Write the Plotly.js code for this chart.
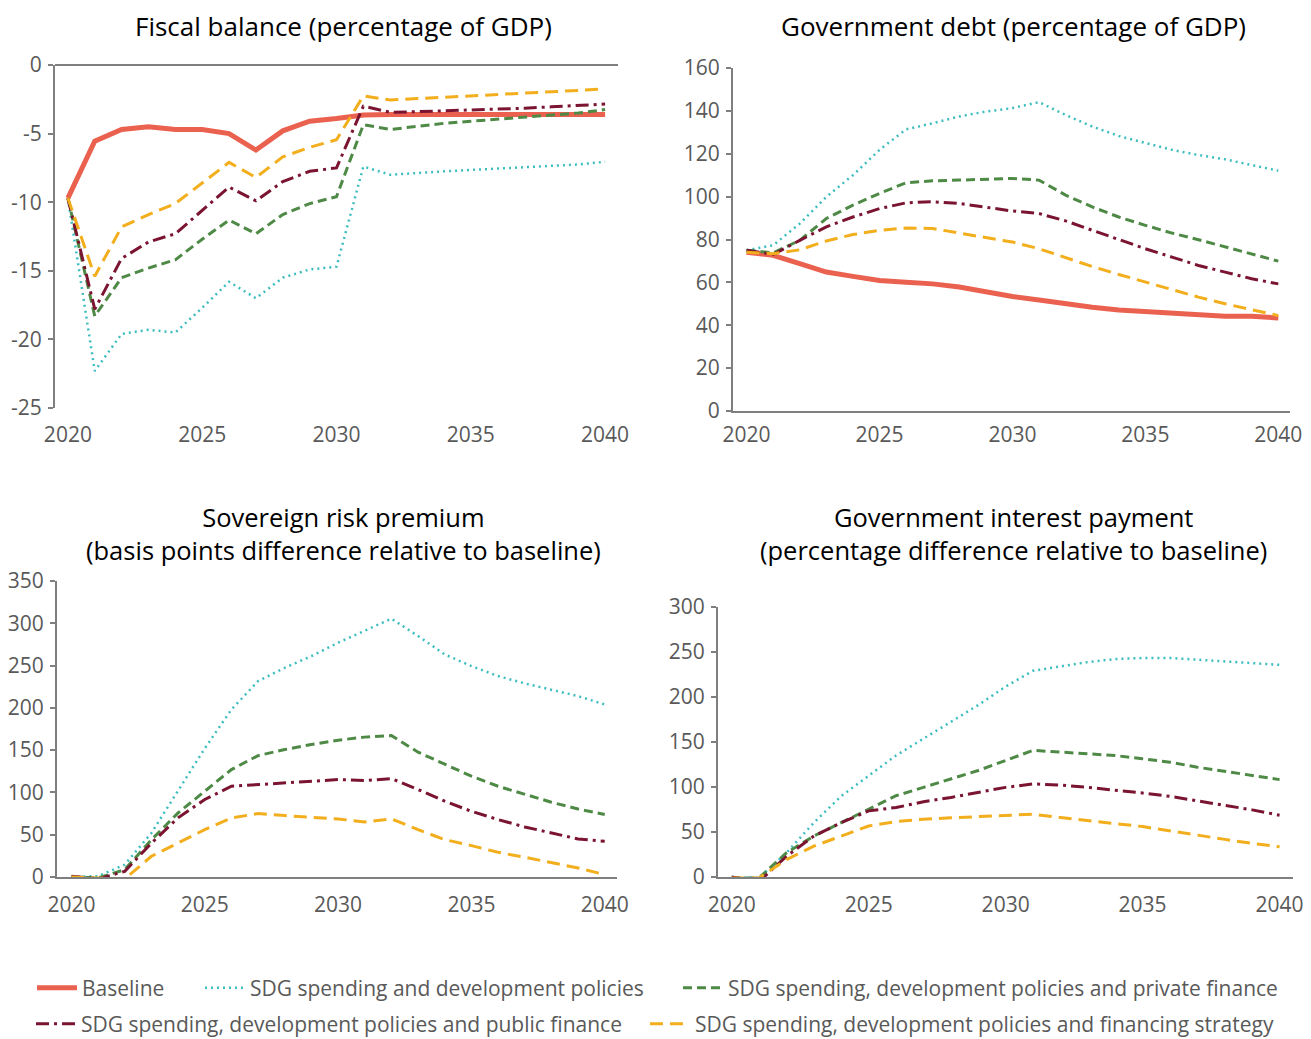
<!DOCTYPE html>
<html>
<head>
<meta charset="utf-8">
<script src="https://cdn.plot.ly/plotly-3.0.1.min.js"></script>
<style>html,body{margin:0;padding:0;background:#fff;}#chart{width:1311px;height:1039px;}</style>
</head>
<body>
<div id="chart"></div>
<script>
// ---- Data ----
const years = [2020,2021,2022,2023,2024,2025,2026,2027,2028,2029,2030,2031,2032,2033,2034,2035,2036,2037,2038,2039,2040];

const seriesNames = [
  "Baseline",
  "SDG spending and development policies",
  "SDG spending, development policies and private finance",
  "SDG spending, development policies and public finance",
  "SDG spending, development policies and financing strategy"
];

// Fiscal balance (percentage of GDP)
const fiscalBaseline = [-9.7,-5.55,-4.7,-4.5,-4.7,-4.7,-5.0,-6.2,-4.8,-4.1,-3.9,-3.65,-3.6,-3.6,-3.6,-3.6,-3.6,-3.6,-3.6,-3.6,-3.6];
const fiscalSdg      = [-9.7,-22.3,-19.6,-19.3,-19.5,-17.7,-15.8,-17.0,-15.5,-14.9,-14.7,-7.4,-8.0,-7.85,-7.75,-7.65,-7.55,-7.45,-7.35,-7.25,-7.05];
const fiscalPrivate  = [-9.7,-18.3,-15.5,-14.8,-14.2,-12.7,-11.3,-12.3,-10.9,-10.1,-9.6,-4.35,-4.7,-4.45,-4.25,-4.1,-3.95,-3.8,-3.65,-3.5,-3.25];
const fiscalPublic   = [-9.7,-17.8,-14.1,-12.9,-12.3,-10.6,-8.9,-9.9,-8.5,-7.75,-7.5,-3.0,-3.45,-3.4,-3.35,-3.3,-3.2,-3.15,-3.05,-2.95,-2.85];
const fiscalStrategy = [-9.7,-15.4,-11.8,-10.9,-10.1,-8.6,-7.1,-8.2,-6.7,-6.0,-5.45,-2.25,-2.55,-2.45,-2.35,-2.25,-2.15,-2.05,-1.95,-1.85,-1.75];
const fiscalTickVals = [0,-5,-10,-15,-20,-25];
const fiscalTickText = ["0","-5","-10","-15","-20","-25"];

// Government debt (percentage of GDP)
const debtBaseline = [74.1,72.6,68.7,64.8,62.8,60.9,60.1,59.3,57.8,55.4,53.4,51.8,50.0,48.4,47.1,46.4,45.6,45.0,44.2,44.2,43.4];
const debtSdg      = [75.0,77.3,87.4,99.9,110.0,121.8,131.4,134.2,137.4,139.7,141.3,144.1,138.1,132.7,128.3,124.9,121.8,119.4,117.4,114.7,112.1];
const debtPrivate  = [75.0,73.8,79.6,89.8,96.0,101.5,106.5,107.4,107.7,108.2,108.5,107.7,100.7,95.2,90.5,86.6,83.0,79.9,76.5,73.4,69.9];
const debtPublic   = [75.0,73.0,79.6,85.9,90.5,94.4,97.1,97.6,96.8,95.2,93.3,92.1,88.7,84.3,79.9,75.7,71.8,67.9,64.8,61.7,59.3];
const debtStrategy = [74.1,73.4,75.2,79.3,82.3,84.3,85.4,85.1,83.0,80.9,78.8,75.7,71.5,67.4,63.7,60.1,56.5,53.1,50.0,47.1,44.5];

// Sovereign risk premium (basis points difference relative to baseline)
const riskSdg      = [0,1,14.6,52,102,152,198,231.6,247.4,261.2,277,290.9,305.4,285,263.2,249.4,237.6,228.9,221.8,213.9,204];
const riskPrivate  = [0,-1,8.7,44,75.8,101.4,127,143.6,150.7,156.7,161.8,165.4,167.3,147.6,133,119.2,107.3,97.5,88.4,80.5,73.8];
const riskPublic   = [1,-2.4,6.7,40,70,91.6,107.3,109.3,112.1,114,115.2,114,116.4,103.4,89.6,77.7,67.9,59.2,52.1,45,42.2];
const riskStrategy = [0,-1,-2.4,24.5,40.3,56,69.9,75,72.6,71,68.7,65.1,68.7,56,44.2,37.1,29.2,23.3,17.4,10.7,2.8];

// Government interest payment (percentage difference relative to baseline)
const interestSdg      = [0,-1,26.9,60.4,90,112,135,153.7,172.4,191,211.6,229.1,234,238.8,242.2,243.3,243.3,241.4,239.6,237.7,235.8];
const interestPrivate  = [-1,-1,26.9,45.5,60.4,75.4,90.3,99.6,109,118.3,129.5,140.7,138.8,136.9,135,131.3,127.6,122,117.2,112.7,108.2];
const interestPublic   = [0,-4.9,23,45.5,60.4,73.5,77.2,83.6,88.4,94,99.6,103.4,102.2,99.6,96.6,93.3,89.6,84.7,79.9,74.6,68.7];
const interestStrategy = [-1,-1,19.4,34.3,45.5,56.7,61.6,64.2,65.7,67.2,68.7,69.8,66,62.3,59.3,56,51.1,46.3,41.8,37.3,33.6];

// Panel titles
const panelTitles = [
  "Fiscal balance (percentage of GDP)",
  "Government debt (percentage of GDP)",
  "Sovereign risk premium<br>(basis points difference relative to baseline)",
  "Government interest payment<br>(percentage difference relative to baseline)"
];

// ---- Styling ----
const W = 1311, H = 1039;
const FONT = "'Open Sans', 'Noto Sans', sans-serif";
const styles = [
  {color:"#EB6150", width:5,   dash:"solid"},
  {color:"#3DBDBE", width:2.5, dash:"2px,4px"},
  {color:"#4E8A46", width:3,   dash:"9px,5px"},
  {color:"#7A1430", width:3,   dash:"13px,5px,3px,5px"},
  {color:"#F2AE1C", width:3,   dash:"13px,7px"}
];
const legendIds = ["legend","legend2","legend3","legend4","legend5"];

const panels = [
  {ax:"", data:[fiscalBaseline,fiscalSdg,fiscalPrivate,fiscalPublic,fiscalStrategy]},
  {ax:"2", data:[debtBaseline,debtSdg,debtPrivate,debtPublic,debtStrategy]},
  {ax:"3", data:[null,riskSdg,riskPrivate,riskPublic,riskStrategy]},
  {ax:"4", data:[null,interestSdg,interestPrivate,interestPublic,interestStrategy]}
];

const traces = [];
panels.forEach((p, pi) => {
  p.data.forEach((vals, si) => {
    if (!vals) return;
    traces.push({
      type:"scatter", mode:"lines",
      x: years, y: vals,
      name: seriesNames[si],
      xaxis: "x"+p.ax, yaxis: "y"+p.ax,
      line: Object.assign({}, styles[si]),
      showlegend: pi === 0,
      legend: legendIds[si],
      hoverinfo: "skip"
    });
  });
});
const px = v => v / W;
const py = v => 1 - v / H;

function xAx(l, r, range, standoff) {
  return {
    domain:[px(l), px(r)], range: range, tick0:2020, dtick:5,
    showgrid:false, zeroline:false, showline:true, linecolor:"#7F7F7F", linewidth:2,
    ticks:"", ticklabelstandoff: standoff,
    tickfont:{family:FONT, size:21, color:"#595959"}, fixedrange:true
  };
}
function yAx(t, b, range, dtick) {
  return {
    domain:[py(b), py(t)], range: range, dtick: dtick,
    showgrid:false, zeroline:false, showline:true, linecolor:"#7F7F7F", linewidth:2,
    ticks:"outside", ticklen:5, tickwidth:2, tickcolor:"#7F7F7F", ticklabelstandoff:2,
    tickfont:{family:FONT, size:21, color:"#595959"}, fixedrange:true
  };
}

const layout = {
  width: W, height: H,
  margin:{l:0,r:0,t:0,b:0,autoexpand:false},
  paper_bgcolor:"#fff", plot_bgcolor:"#fff",
  font:{family:FONT, color:"#595959"},
  xaxis:  Object.assign(xAx(55, 618, [2019.52, 2040.48], 12), {anchor:"y", showline:false}),
  yaxis:  Object.assign(yAx(65, 408, [-25, 0], 5), {anchor:"x", tickmode:"array", tickvals:fiscalTickVals, ticktext:fiscalTickText,
           zeroline:true, zerolinecolor:"#7F7F7F", zerolinewidth:2}),
  xaxis2: Object.assign(xAx(733, 1290, [2019.49, 2040.44], 4), {anchor:"y2"}),
  yaxis2: Object.assign(yAx(68, 411, [0, 160], 20), {anchor:"x2"}),
  xaxis3: Object.assign(xAx(57, 617, [2019.46, 2040.46], 8), {anchor:"y3"}),
  yaxis3: Object.assign(yAx(581, 877, [0, 350], 50), {anchor:"x3"}),
  xaxis4: Object.assign(xAx(718, 1293, [2019.5, 2040.49], 8), {anchor:"y4"}),
  yaxis4: Object.assign(yAx(607, 877, [0, 300], 50), {anchor:"x4"}),
  annotations: []
};

const titlePos = [[343,26,26],[1014,26,26],[343,533,25.5],[1014,533,25.5]];
panelTitles.forEach((txt, i) => {
  layout.annotations.push({
    text: txt, xref:"paper", yref:"paper",
    x: px(titlePos[i][0]), y: py(titlePos[i][1]),
    xanchor:"center", yanchor:"middle", align:"center", showarrow:false,
    font:{family:FONT, size:titlePos[i][2], color:"#000"}
  });
});

const legendPos = [[37,988],[205,988],[683,988],[36,1024],[650,1024]];
legendIds.forEach((id, i) => {
  layout[id] = {
    x: px(legendPos[i][0]-5), y: py(legendPos[i][1]), xanchor:"left", yanchor:"middle",
    orientation:"h", bgcolor:"rgba(0,0,0,0)", borderwidth:0,
    font:{family:FONT, size:21, color:"#595959"}, itemwidth:40
  };
});

Plotly.newPlot("chart", traces, layout, {staticPlot:true, displayModeBar:false});
</script>
</body>
</html>
